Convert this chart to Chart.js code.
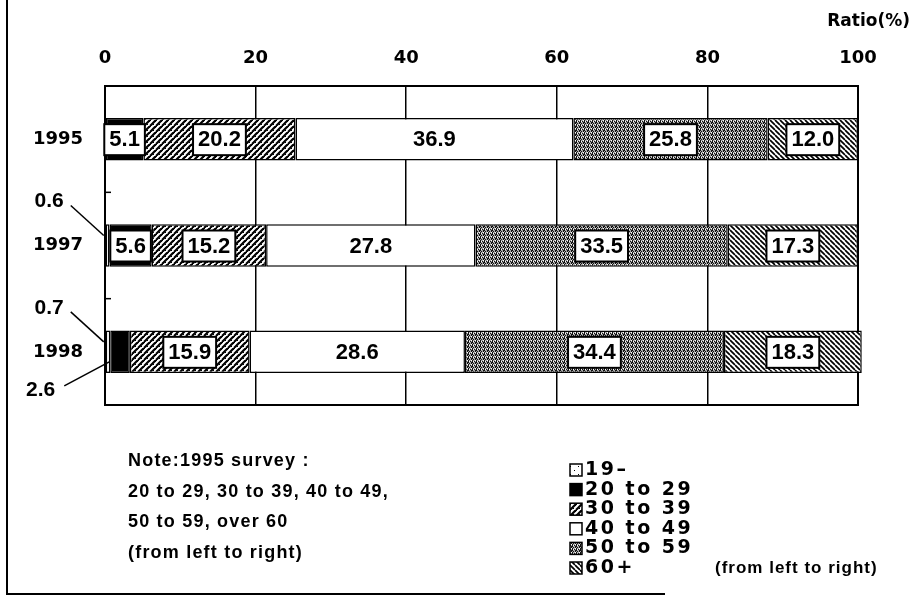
<!DOCTYPE html>
<html>
<head>
<meta charset="utf-8">
<script src="https://cdn.jsdelivr.net/npm/chart.js@4.4.1/dist/chart.umd.min.js"></script>
<style>
  html, body { margin: 0; padding: 0; background: #fff; }
  canvas { display: block; }
</style>
</head>
<body>
<canvas id="chartAges" width="918" height="597"></canvas>
<script>
// age structure by survey year, share of total (%)
var years = ['1995', '1997', '1998'];
var ageGroups = ['19\u2013', '20 to 29', '30 to 39', '40 to 49', '50 to 59', '60+'];

var under20 = [null, 0.6, 0.7];
var age20s = [5.1, 5.6, 2.6];
var age30s = [20.2, 15.2, 15.9];
var age40s = [36.9, 27.8, 28.6];
var age50s = [25.8, 33.5, 34.4];
var over60 = [12.0, 17.3, 18.3];

var axisTitle = 'Ratio(%)';
var noteLines = ['Note:1995 survey :', '20 to 29, 30 to 39, 40 to 49,', '50 to 59, over 60', '(from left to right)'];
var legendNote = '(from left to right)';

// black & white fill patterns like the printed original
function makePattern(kind) {
    var c = document.createElement('canvas');
    var g = c.getContext('2d');
    var s, k;
    if (kind === 'dots') {
        s = 8; c.width = c.height = s;
        g.fillStyle = '#fff'; g.fillRect(0, 0, s, s);
        g.fillStyle = '#000'; g.fillRect(2, 2, 1, 1); g.fillRect(6, 6, 1, 1);
    } else if (kind === 'slash') {
        s = 6; c.width = c.height = s;
        g.fillStyle = '#fff'; g.fillRect(0, 0, s, s);
        g.strokeStyle = '#000'; g.lineWidth = 2.2;
        for (k = -1; k <= 1; k++) {
            g.beginPath(); g.moveTo(k * s, s); g.lineTo(k * s + s, 0); g.stroke();
        }
        g.fillStyle = '#000'; g.fillRect(0, 0, 1, 1); g.fillRect(3, 4, 1, 1);
    } else if (kind === 'grey') {
        s = 4; c.width = c.height = s;
        g.fillStyle = '#a9a9a9'; g.fillRect(0, 0, s, s);
        g.fillStyle = '#111';
        g.fillRect(0, 0, 1, 3); g.fillRect(2, 1, 1, 1); g.fillRect(1, 3, 1, 1); g.fillRect(3, 2, 1, 2);
        g.fillStyle = '#fff'; g.fillRect(1, 1, 1, 1); g.fillRect(3, 0, 1, 1);
    } else if (kind === 'hatch') {
        s = 5; c.width = c.height = s;
        g.fillStyle = '#fff'; g.fillRect(0, 0, s, s);
        g.strokeStyle = '#000'; g.lineWidth = 1.7;
        for (k = -1; k <= 1; k++) {
            g.beginPath(); g.moveTo(k * s, 0); g.lineTo(k * s + s, s); g.stroke();
        }
    }
    return g.createPattern(c, 'repeat');
}

var fills = [makePattern('dots'), '#000', makePattern('slash'), '#fff', makePattern('grey'), makePattern('hatch')];
var series = [under20, age20s, age30s, age40s, age50s, over60];

var datasets = series.map(function (d, i) {
    return {
        label: ageGroups[i],
        data: d,
        backgroundColor: fills[i],
        borderColor: '#000',
        borderWidth: 1.5,
        borderSkipped: false,
        barPercentage: 0.5,
        categoryPercentage: 0.8,
        clip: false,
        plainLabel: i === 3
    };
});

var labelsPlugin = {
    id: 'paperLook',
    beforeDatasetsDraw: function (chart) {
        var ctx = chart.ctx, a = chart.chartArea, ys = chart.scales.y;
        ctx.save();
        ctx.strokeStyle = '#000';
        ctx.lineWidth = 2;
        ctx.strokeRect(a.left, a.top, a.right - a.left, a.bottom - a.top);
        // little ticks between the year rows
        ctx.lineWidth = 1.5;
        for (var i = 1; i < years.length; i++) {
            var yb = (ys.getPixelForValue(i - 1) + ys.getPixelForValue(i)) / 2;
            ctx.beginPath(); ctx.moveTo(a.left, yb); ctx.lineTo(a.left + 6, yb); ctx.stroke();
        }
        // page frame
        ctx.lineWidth = 2;
        ctx.beginPath(); ctx.moveTo(7, 0); ctx.lineTo(7, 594); ctx.lineTo(665, 594); ctx.stroke();
        ctx.restore();
    },
    afterDatasetsDraw: function (chart) {
        var ctx = chart.ctx;
        ctx.save();
        ctx.fillStyle = '#000';
        ctx.strokeStyle = '#000';
        ctx.textBaseline = 'middle';

        var smallCount = years.map(function () { return 0; });
        chart.data.datasets.forEach(function (ds, di) {
            var meta = chart.getDatasetMeta(di);
            meta.data.forEach(function (el, j) {
                var v = ds.data[j];
                if (v === null || v === undefined) return;
                var txt = v.toFixed(1);
                var cx = (el.x + el.base) / 2, cy = el.y;
                if (v < 4) {
                    // value too small for the bar: label outside with a leader line
                    var above = smallCount[j] === 0;
                    smallCount[j]++;
                    ctx.font = 'bold 21px "Liberation Sans", Arial, sans-serif';
                    ctx.textAlign = 'right';
                    ctx.lineWidth = 1.5;
                    ctx.beginPath();
                    if (above) {
                        ctx.moveTo(el.base - 2, cy - 10); ctx.lineTo(el.base - 35, cy - 40);
                        ctx.stroke();
                        ctx.fillText(txt, el.base - 42, cy - 44);
                    } else {
                        ctx.moveTo(el.base - 1, cy + 10); ctx.lineTo(el.base - 46, cy + 34);
                        ctx.stroke();
                        ctx.fillText(txt, el.base - 55, cy + 38);
                    }
                    return;
                }
                ctx.font = 'bold 22px "Liberation Sans", Arial, sans-serif';
                ctx.textAlign = 'center';
                var w = ctx.measureText(txt).width + 10;
                if (!ds.plainLabel) {
                    ctx.fillStyle = '#fff';
                    ctx.fillRect(cx - w / 2, cy - 15, w, 31);
                    ctx.lineWidth = 2;
                    ctx.strokeRect(cx - w / 2, cy - 15, w, 31);
                    ctx.fillStyle = '#000';
                }
                ctx.fillText(txt, cx, cy + 1);
            });
        });

        // axis title
        ctx.font = 'bold 17px "DejaVu Sans", sans-serif';
        ctx.textAlign = 'right';
        ctx.fillText(axisTitle, 910, 22);

        // note block
        ctx.font = 'bold 18px "Liberation Sans", Arial, sans-serif';
        ctx.textAlign = 'left';
        ctx.letterSpacing = '1.2px';
        noteLines.forEach(function (t, i) {
            ctx.fillText(t, 128, 461 + i * 30.7);
        });

        // legend
        chart.data.datasets.forEach(function (ds, i) {
            var ly = 470 + i * 19.6;
            ctx.fillStyle = ds.backgroundColor;
            ctx.fillRect(570, ly - 6, 12, 12);
            ctx.lineWidth = 1.5;
            ctx.strokeRect(570, ly - 6, 12, 12);
            ctx.fillStyle = '#000';
            ctx.font = 'bold 19px "DejaVu Sans", sans-serif';
            ctx.letterSpacing = '2.5px';
            ctx.fillText(ds.label, 585, ly);
        });
        ctx.font = 'bold 17px "Liberation Sans", Arial, sans-serif';
        ctx.letterSpacing = '1px';
        ctx.fillText(legendNote, 715, 568);
        ctx.restore();
    }
};

var chartAges = new Chart(document.getElementById('chartAges'), {
    type: 'bar',
    data: { labels: years, datasets: datasets },
    plugins: [labelsPlugin],
    options: {
        indexAxis: 'y',
        responsive: false,
        animation: false,
        devicePixelRatio: 1,
        layout: { padding: { left: 0, right: 60, top: 0, bottom: 192 } },
        plugins: { legend: { display: false }, tooltip: { enabled: false } },
        scales: {
            x: {
                position: 'top',
                stacked: true,
                min: 0,
                max: 100,
                afterFit: function (s) { s.height = 86; },
                border: { display: false },
                grid: { color: '#000', lineWidth: 1.5, drawTicks: false },
                ticks: {
                    stepSize: 20,
                    padding: 17,
                    color: '#000',
                    font: { family: 'DejaVu Sans', weight: 'bold', size: 18 }
                }
            },
            y: {
                stacked: true,
                afterFit: function (s) { s.width = 105; },
                border: { display: false },
                grid: { display: false, drawTicks: false },
                ticks: {
                    padding: 22,
                    color: '#000',
                    font: { family: 'DejaVu Sans', weight: 'bold', size: 18 }
                }
            }
        }
    }
});
</script>
</body>
</html>
